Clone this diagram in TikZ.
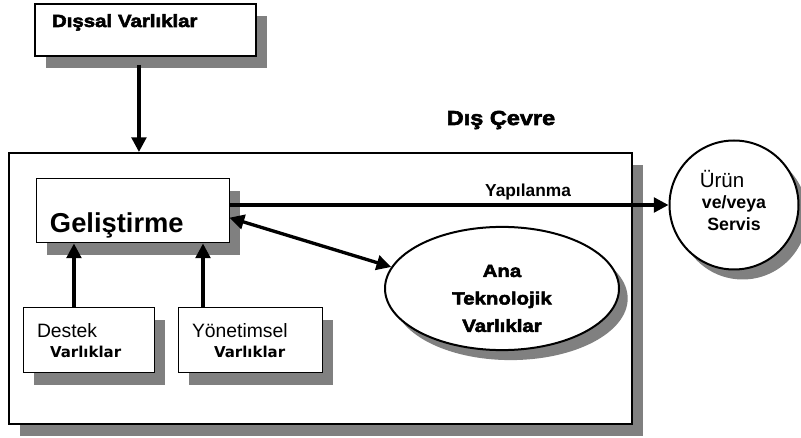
\documentclass[tikz,border=0pt]{standalone}
\usepackage{fontspec}
\setmainfont{Liberation Sans}
\newfontfamily\dejavu{DejaVu Sans}
\newfontfamily\heavyfont{Liberation Sans}[BoldFeatures={FakeBold=3,FakeStretch=1.16}]
\usetikzlibrary{arrows.meta,positioning,shadows,shapes.geometric}
\definecolor{ShadowGray}{HTML}{808080}

\begin{document}
\begin{tikzpicture}[
    x=0.75pt, y=-0.75pt,
    box/.style={draw, fill=white, line width=0.75pt, inner ysep=0pt, align=left},
    rshadow/.style={drop shadow={opacity=1, fill=ShadowGray, shadow xshift=8.5pt, shadow yshift=-9pt}},
    oshadow/.style={drop shadow={opacity=1, fill=ShadowGray, shadow xshift=6.5pt, shadow yshift=-7.5pt}},
    tip/.tip={Triangle[length=11pt,width=11pt]},
    arr/.style={line width=2.5pt, -tip},
    heavy/.style={font=\heavyfont\bfseries\fontsize{#1}{1.2\dimexpr#1pt}\selectfont}
  ]
    \useasboundingbox (0,0) rectangle (801,438);

    % outer frame first, everything else sits on it
    \node[box, rshadow, line width=1.5pt, minimum width=467.25pt, minimum height=203.25pt] (env) at (320.5,288.5) {};
    \node[heavy=15.2, anchor=base] (cevre) at (501,125) {Dış Çevre};

    \node[box, rshadow, line width=1.5pt, heavy=13.2, minimum width=165.75pt, minimum height=39pt,
          inner xsep=12.75pt, text width=140.25pt, text height=17.25pt, text depth=21.75pt] (dissal) at (145.5,30) {Dışsal Varlıklar};

    \node[box, rshadow, font=\bfseries\fontsize{20.5}{24}\selectfont, minimum width=144.75pt, minimum height=48pt,
          inner xsep=10.5pt, text width=123.75pt, text height=40.5pt, text depth=7.5pt] (gel) at (132.5,211) {Geliştirme};

    \node[box, rshadow, font=\fontsize{14.5}{15}\selectfont, minimum width=98.25pt, minimum height=48.75pt,
          inner xsep=10.5pt, text width=77.25pt] (destek) at (88.5,340.5)
          {Destek\\\hspace*{9.75pt}{\dejavu\bfseries\fontsize{11.25}{15}\selectfont Varlıklar}};
    \node[box, rshadow, font=\fontsize{14.5}{15}\selectfont, minimum width=108pt, minimum height=48.75pt,
          inner xsep=10.5pt, text width=87pt] (yonetim) at (250,340.5)
          {Yönetimsel\\\hspace*{16.5pt}{\dejavu\bfseries\fontsize{11.25}{15}\selectfont Varlıklar}};

    \node[ellipse, draw, fill=white, oshadow, line width=1.5pt, inner sep=0pt, align=center,
          minimum width=175.5pt, minimum height=89.25pt, font=\heavyfont\bfseries\fontsize{13.2}{20.6}\selectfont] (ana) at (502,288.5)
          {\rule{0pt}{24pt}Ana\\Teknolojik\\Varlıklar};

    \node[circle, draw, fill=white, oshadow, line width=1.5pt, inner sep=0pt, align=center,
          minimum size=96.75pt, font=\bfseries\fontsize{13.3}{16}\selectfont] (urun) at (734,205)
          {{\mdseries\fontsize{15.4}{16}\selectfont Ürün}\hspace*{18pt}\\ve/veya\\Servis\rule[-7pt]{0pt}{0pt}};

    % connectors
    \draw[arr] ([xshift=-4.9pt,yshift=-6pt]dissal.south) -- ([xshift=-4.9pt]dissal.south |- env.north);
    \draw[arr] ([xshift=-10.9pt]destek.north) -- ([xshift=-10.9pt]destek.north |- gel.south);
    \draw[arr] ([xshift=-35.25pt]yonetim.north) -- ([xshift=-35.25pt]yonetim.north |- gel.south);
    \draw[arr] (gel.east |- urun.west) -- node[pos=0.68, above=-1pt, font=\bfseries\fontsize{13}{15}\selectfont] {Yapılanma} (urun.west);
    \draw[arr, tip-tip] ([yshift=-5pt]gel.east) -- (ana.169);
  \end{tikzpicture}
\end{document}
